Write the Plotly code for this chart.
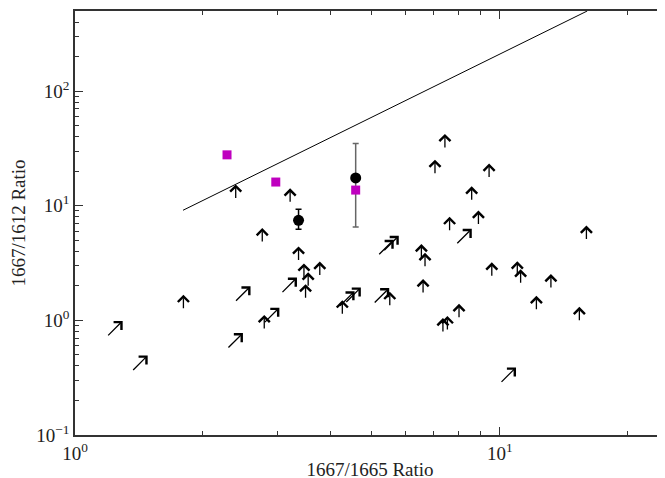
import plotly.graph_objects as go
import numpy as np

# Lower limits on 1667/1612 only (upward arrows)
up_x = [2.39, 3.21, 2.76, 3.36, 3.46, 3.77, 3.54, 3.49, 1.80, 2.79, 4.26, 5.51,
        6.54, 6.67, 6.60, 7.43, 7.04, 9.44, 8.59, 8.91, 7.62, 7.35, 7.53, 8.02,
        9.58, 11.0, 11.2, 12.2, 13.2, 15.4, 16.0]
up_y = [13.2, 12.2, 5.5, 3.8, 2.7, 2.8, 2.26, 1.78, 1.44, 0.96, 1.29, 1.53,
        3.98, 3.34, 1.97, 36.4, 21.7, 20.1, 12.7, 7.8, 6.9, 0.90, 0.94, 1.20,
        2.76, 2.82, 2.40, 1.41, 2.18, 1.13, 5.78]

# Lower limits on both ratios (diagonal arrows)
diag_x = [1.24, 1.42, 2.38, 2.48, 2.90, 3.19, 4.36, 4.51, 5.26, 5.39, 5.54, 8.23, 10.46]
diag_y = [0.843, 0.421, 0.66, 1.69, 1.10, 2.01, 1.53, 1.65, 1.63, 4.30, 4.66, 5.36, 0.331]

# Magenta squares
sq_x = [2.28, 2.97, 4.58]
sq_y = [27.8, 16.1, 13.7]

# Black points with error bars
pt_x = [3.36, 4.58]
pt_y = [7.47, 17.5]
pt_hi = [9.32, 34.9]
pt_lo = [6.23, 6.53]

# Reference line
line_x = [1.796, 16.07]
line_y = [9.13, 500.0]

fig = go.Figure()

fig.add_trace(go.Scatter(x=line_x, y=line_y, mode="lines",
                         line=dict(color="black", width=1), hoverinfo="skip",
                         showlegend=False))

err_colors = ["black", "#666666"]
for i in range(len(pt_x)):
    fig.add_trace(go.Scatter(
        x=[pt_x[i]], y=[pt_y[i]], mode="markers",
        marker=dict(color="black", size=11, symbol="circle"),
        error_y=dict(type="data", symmetric=False,
                     array=[pt_hi[i] - pt_y[i]], arrayminus=[pt_y[i] - pt_lo[i]],
                     color=err_colors[i], thickness=1.5, width=3),
        showlegend=False, hoverinfo="skip"))

fig.add_trace(go.Scatter(x=sq_x, y=sq_y, mode="markers",
                         marker=dict(color="#bf00bf", size=9, symbol="square"),
                         showlegend=False, hoverinfo="skip"))

# arrow glyphs as annotations anchored on the data points (log axes -> log10 coords)
arrow_style = dict(xref="x", yref="y", text="", showarrow=True, arrowhead=4,
                   arrowsize=1.65, arrowwidth=1.3, arrowcolor="black",
                   standoff=0, startstandoff=0, font=dict(size=1))
for xv, yv in zip(up_x, up_y):
    fig.add_annotation(x=np.log10(xv), y=np.log10(yv), ax=0, ay=15,
                       yshift=7.5, **arrow_style)
for xv, yv in zip(diag_x, diag_y):
    fig.add_annotation(x=np.log10(xv), y=np.log10(yv), ax=-16, ay=16,
                       xshift=8, yshift=8, **arrow_style)

tickfont = dict(family="Liberation Serif", size=19, color="#222")
common = dict(type="log", showgrid=False, zeroline=False, showline=True,
              linecolor="#333", linewidth=1.5, mirror="allticks",
              ticks="inside", ticklen=8, tickwidth=1, tickcolor="#333",
              tickfont=tickfont, automargin=False,
              minor=dict(ticks="inside", ticklen=4, dtick="D1", tickcolor="#333",
                         tickwidth=1, showgrid=False))

# page body adds an 8px offset, margins compensate for it
fig.update_layout(
    width=665, height=478,
    margin=dict(l=67, r=8, t=3, b=51),
    paper_bgcolor="white", plot_bgcolor="white",
    xaxis=dict(range=[0, np.log10(24.5)], tickvals=[1, 10],
               ticktext=["10<sup>0</sup>", "10<sup>1</sup>"],
               title=dict(text="1667/1665 Ratio", font=dict(family="Liberation Serif", size=19, color="#222"),
                          standoff=0),
               **common),
    yaxis=dict(range=[-1, np.log10(500)], tickvals=[0.1, 1, 10, 100],
               ticktext=["10<sup>−1</sup>", "10<sup>0</sup>", "10<sup>1</sup>", "10<sup>2</sup>"],
               title=dict(text="1667/1612 Ratio", font=dict(family="Liberation Serif", size=19, color="#222"),
                          standoff=12),
               **common),
)

fig.write_html("out.html")
